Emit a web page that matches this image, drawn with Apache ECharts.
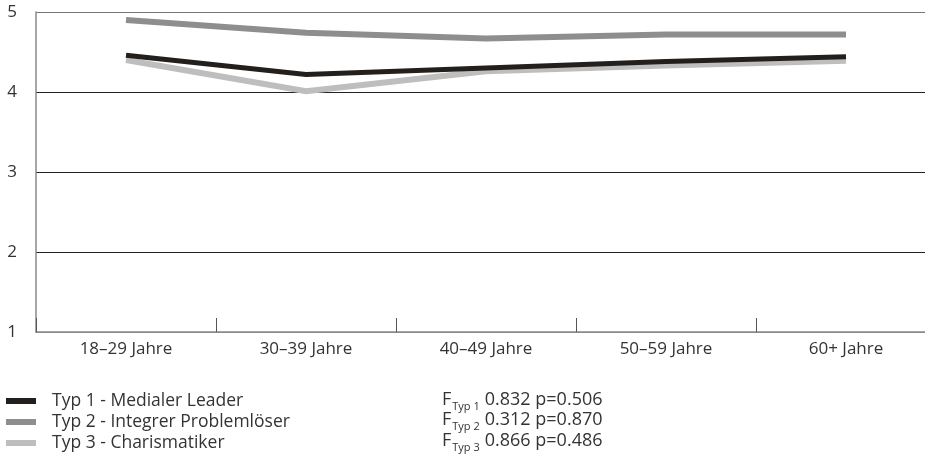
<!DOCTYPE html>
<html>
<head>
<meta charset="utf-8">
<script src="https://cdn.jsdelivr.net/npm/echarts@6/dist/echarts.min.js"></script>
<style>html,body{margin:0;padding:0;background:#fff;overflow:hidden;width:925px;height:462px}#c{width:940px;height:462px}</style>
</head>
<body>
<div id="c"></div>
<script>
const categories = ['18–29 Jahre', '30–39 Jahre', '40–49 Jahre', '50–59 Jahre', '60+ Jahre'];
const seriesNames = ['Typ 1 - Medialer Leader', 'Typ 2 - Integrer Problemlöser', 'Typ 3 - Charismatiker'];
const typ1 = [4.46, 4.22, 4.30, 4.38, 4.44];
const typ2 = [4.90, 4.74, 4.67, 4.72, 4.72];
const typ3 = [4.40, 4.01, 4.26, 4.33, 4.39];
const yTicks = [1, 2, 3, 4, 5];
const fLabels = ['Typ 1', 'Typ 2', 'Typ 3'];
const fValues = ['0.832', '0.312', '0.866'];
const pValues = ['0.506', '0.870', '0.486'];

const colors = ['#231f1c', '#8e8e8e', '#bebebe'];
const widths = [5, 6, 6];
const chart = echarts.init(document.getElementById('c'));
const font = '"Open Sans", "Noto Sans", sans-serif';
const txt = '#333';

const graphics = fLabels.map((l, i) => ({
  type: 'text',
  left: 442,
  top: 387 + i * 20.5,
  style: {
    rich: {
      f: { fontSize: 18, fontFamily: font, fill: txt, lineHeight: 22 },
      s: { fontSize: 11, fontFamily: font, fill: txt, lineHeight: 22, padding: [14, 5, 0, 1] }
    },
    text: '{f|F}{s|' + l + '}{f|' + fValues[i] + ' p=' + pValues[i] + '}'
  }
}));

chart.setOption({
  animation: false,
  textStyle: { fontFamily: font },
  grid: { left: 36, top: 12, width: 900, height: 320, containLabel: false },
  legend: {
    orient: 'vertical',
    left: 6,
    top: 391,
    padding: 0,
    itemWidth: 30,
    itemHeight: 6,
    itemGap: 1,
    icon: 'rect',
    textStyle: { fontSize: 17.5, color: txt, fontFamily: font, lineHeight: 20, padding: [0, 0, 0, 11] },
    data: seriesNames
  },
  xAxis: {
    type: 'category',
    data: categories,
    boundaryGap: true,
    axisLine: { lineStyle: { color: '#8a8a8a', width: 1.5 } },
    axisTick: { show: true, inside: true, length: 14, lineStyle: { color: '#555', width: 1 } },
    axisLabel: { fontSize: 17, color: txt, margin: 9 }
  },
  yAxis: {
    type: 'value',
    min: 1, max: 5, interval: 1,
    axisLine: { show: true, lineStyle: { color: '#8a8a8a', width: 1.5 } },
    axisTick: { show: false },
    axisLabel: { fontSize: 17, color: txt, margin: 19 },
    splitLine: { show: true, lineStyle: { color: ['#8a8a8a', '#222', '#222', '#222', '#777'], width: 1.2 } }
  },
  series: [typ1, typ2, typ3].map((d, i) => ({
    name: seriesNames[i],
    type: 'line',
    data: d,
    showSymbol: false,
    symbol: 'none',
    z: 3 - i + 2,
    itemStyle: { color: colors[i] },
    lineStyle: { color: colors[i], width: widths[i], cap: 'butt', join: 'miter' }
  })),
  graphic: graphics
});
</script>
</body>
</html>
